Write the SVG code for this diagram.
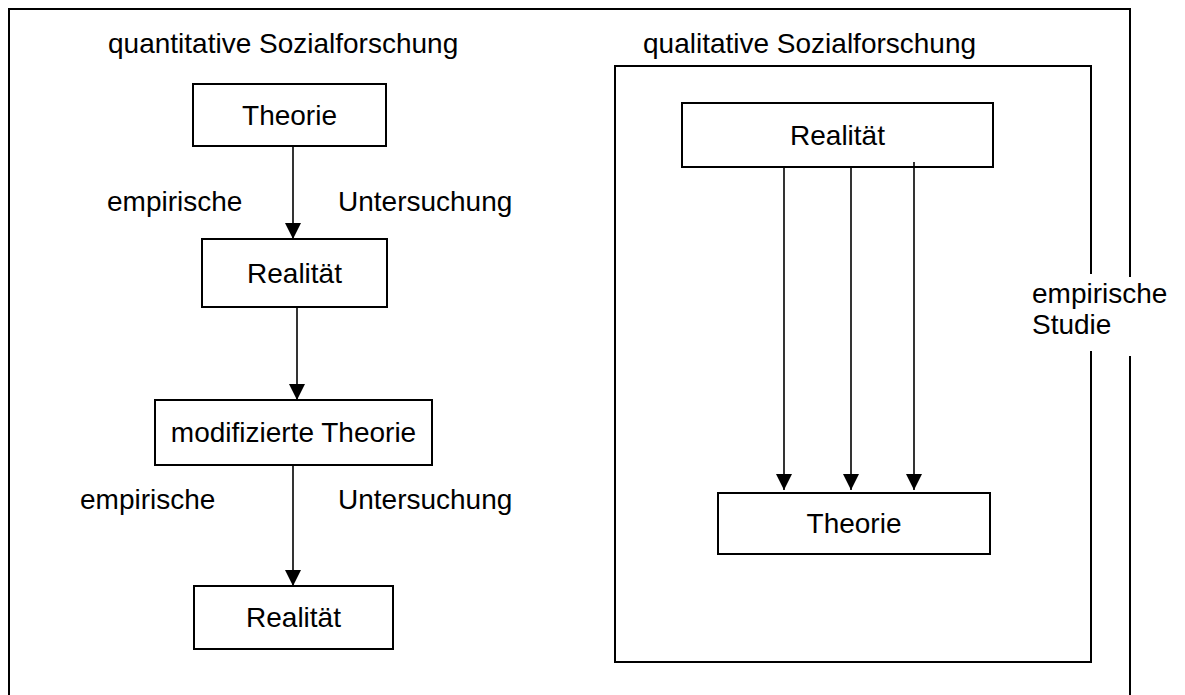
<svg xmlns="http://www.w3.org/2000/svg" width="1185" height="695" viewBox="0 0 1185 695">
<defs>
<style>
text{font-family:"Liberation Sans",Arial,sans-serif;font-size:28px;fill:#000}
.c{text-anchor:middle}
.box{fill:#fff;stroke:#000;stroke-width:2}
.frame{fill:none;stroke:#000;stroke-width:2}
.arr{fill:none;stroke:#000;stroke-width:1.6;marker-end:url(#ah)}
</style>
<marker id="ah" markerUnits="userSpaceOnUse" markerWidth="16" markerHeight="16" refX="16" refY="8" orient="auto">
<path d="M0,0 L16,8 L0,16 z" fill="#000"/>
</marker>
</defs>
<rect width="1185" height="695" fill="#fff"/>
<g id="frames">
<path class="frame" d="M9,696 L9,9 L1130,9 L1130,277 M1130,356 L1130,696"/>
<path class="frame" d="M1091,274 L1091,66 L615,66 L615,662 L1091,662 L1091,351"/>
</g>
<g id="labels">
<text x="108" y="53">quantitative Sozialforschung</text>
<text x="643" y="53">qualitative Sozialforschung</text>
<text x="107" y="211">empirische</text>
<text x="338" y="211">Untersuchung</text>
<text x="80" y="509">empirische</text>
<text x="338" y="509">Untersuchung</text>
<text x="1032" y="303">empirische</text>
<text x="1032" y="334">Studie</text>
</g>
<g id="connectors">
<line class="arr" x1="293" y1="146" x2="293" y2="239"/>
<line class="arr" x1="297" y1="307" x2="297" y2="400"/>
<line class="arr" x1="293" y1="465" x2="293" y2="586"/>
<line class="arr" x1="784" y1="167" x2="784" y2="490"/>
<line class="arr" x1="851" y1="167" x2="851" y2="490"/>
<line class="arr" x1="914" y1="162" x2="914" y2="490"/>
</g>
<g id="n1"><rect class="box" x="193" y="84" width="193" height="62"/><text class="c" x="289.5" y="125">Theorie</text></g>
<g id="n2"><rect class="box" x="202" y="239" width="185" height="68"/><text class="c" x="294.5" y="283">Realität</text></g>
<g id="n3"><rect class="box" x="155" y="400" width="277" height="65"/><text class="c" x="293.5" y="442">modifizierte Theorie</text></g>
<g id="n4"><rect class="box" x="194" y="586" width="199" height="63"/><text class="c" x="293.5" y="627">Realität</text></g>
<g id="n5"><rect class="box" x="682" y="103" width="311" height="64"/><text class="c" x="837.5" y="145">Realität</text></g>
<g id="n6"><rect class="box" x="718" y="493" width="272" height="61"/><text class="c" x="854" y="533">Theorie</text></g>
<line x1="914" y1="162" x2="914" y2="168" stroke="#000" stroke-width="1.6"/>
</svg>
